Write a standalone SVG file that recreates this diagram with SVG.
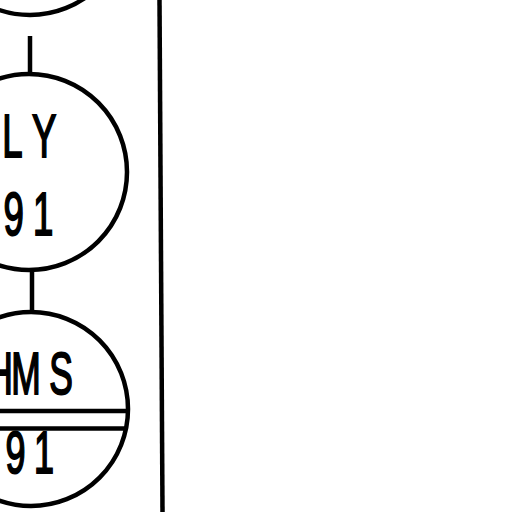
<svg xmlns="http://www.w3.org/2000/svg" width="512" height="512" viewBox="0 0 512 512">
<style>
.c{fill:none;stroke:#000;stroke-width:4.5}
.l{stroke:#000;stroke-width:4.5;fill:none}
.t{font-family:"Liberation Sans",Arial,sans-serif;fill:#000;stroke:#000;stroke-width:2}
</style>
<rect width="512" height="512" fill="#fff"/>
<g id="connectors">
<line class="l" x1="30" y1="36" x2="30" y2="75"/>
<line class="l" x1="32" y1="269" x2="32" y2="313"/>
<line class="l" x1="159.5" y1="0" x2="162.5" y2="512" stroke-width="5"/>
</g>
<g id="node-top">
<circle class="c" cx="30" cy="-82" r="97"/>
</g>
<g id="node-ly">
<circle class="c" cx="29" cy="172" r="98"/>
<text class="t" font-size="61" transform="scale(0.6,1)" y="157"><tspan x="3.7">L</tspan><tspan x="53.3">Y</tspan></text>
<text class="t" font-size="61" transform="scale(0.6,1)" y="235"><tspan x="5.7">9</tspan><tspan x="54.9">1</tspan></text>
</g>
<g id="node-hms">
<circle class="c" cx="31" cy="409" r="97"/>
<line class="l" x1="0" y1="411" x2="128" y2="411" stroke-width="6"/>
<line class="l" x1="0" y1="428.5" x2="127" y2="428.5" stroke-width="5"/>
<text class="t" font-size="59" transform="scale(0.6,1)" y="394"><tspan x="-21.4">H</tspan><tspan x="18.9">M</tspan><tspan x="82">S</tspan></text>
<text class="t" font-size="60" transform="scale(0.6,1)" y="473"><tspan x="9.1">9</tspan><tspan x="56.5">1</tspan></text>
</g>
</svg>
